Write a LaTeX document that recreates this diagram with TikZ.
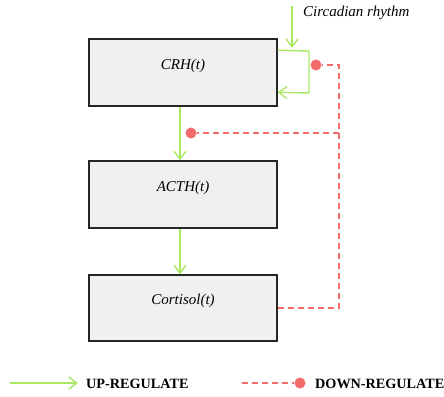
\documentclass[tikz,border=0pt]{standalone}
\usepackage{fontspec}
\setmainfont{Liberation Serif}
\usetikzlibrary{arrows.meta}
\definecolor{upgreen}{RGB}{170,232,100}
\definecolor{downred}{RGB}{242,108,108}
\definecolor{boxgray}{RGB}{240,240,240}
\begin{document}
\begin{tikzpicture}[x=1pt,y=-1pt,
  box/.style={draw=black!85, line width=1.4pt, fill=boxgray, minimum width=188pt, minimum height=67pt, inner sep=0pt, text height=11pt, text depth=17.5pt, font=\itshape\fontsize{15}{17}\selectfont},
  up/.style={draw=upgreen, line width=1.4pt, -{Straight Barb[length=8pt,width=12pt,line width=1.4pt]}},
  upline/.style={draw=upgreen, line width=1.4pt},
  down/.style={draw=downred, line width=1.4pt, dash pattern=on 6pt off 4pt},
  reddot/.style={circle, fill=downred, minimum size=11pt, inner sep=0pt},
  lbl/.style={font=\itshape\fontsize{15}{17}\selectfont, inner sep=0pt},
  leg/.style={font=\bfseries\fontsize{14.2}{16}\selectfont, inner sep=0pt, anchor=west}]
\useasboundingbox (0,0) rectangle (444,396);
\node[box] (crh) at (183,72.5) {CRH(t)};
\node[box] (acth) at (183,194.5) {ACTH(t)};
\node[box, minimum height=66pt] (cort) at (183,308) {Cortisol(t)};
% up arrows
\draw[up] ([xshift=-3pt]crh.south) -- ([xshift=-3pt]acth.north);
\draw[up] ([xshift=-3pt]acth.south) -- ([xshift=-3pt]cort.north);
% circadian
\node[lbl, anchor=west] (circ) at (303,13) {Circadian rhythm};
\coordinate (cs) at (292,6);
\coordinate (ce) at (292,48);
\draw[up] (cs) -- (ce);
\coordinate (lt) at (309,51);
\coordinate (lb) at (309,93);
\draw[upline] ([yshift=-12pt]crh.north east) -- (lt) -- (lb);
\draw[up] (lb) -- ([yshift=-54pt]crh.north east);
% down regulation
\node[reddot] (d1) at (316,65) {};
\node[reddot] (d2) at (191,133) {};
\coordinate (rtop) at (339,65);
\coordinate (rmid) at (339,133);
\draw[down] (cort.east) -| (rtop) -- (d1);
\draw[down] (rmid) -- (d2);
% legend
\coordinate (la) at (10,383);
\coordinate (lb2) at (78,383);
\draw[up] (la) -- (lb2);
\node[leg] (lt1) at (86,384) {UP-REGULATE};
\coordinate (ra) at (242,383);
\node[reddot] (d3) at (300,383) {};
\draw[down] (ra) -- (d3);
\node[leg] (lt2) at (315,384) {DOWN-REGULATE};
\end{tikzpicture}
\end{document}
